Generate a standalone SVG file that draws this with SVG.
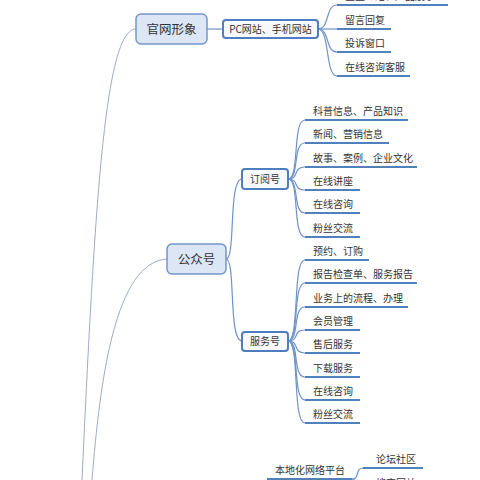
<svg xmlns="http://www.w3.org/2000/svg" width="480" height="480" viewBox="0 0 480 480">
<style>
.t{font-family:"Noto Sans CJK SC","Liberation Sans",sans-serif;fill:#333;font-size:10px}
.big{font-size:12.5px;text-anchor:middle}
.mid{font-size:10px;text-anchor:middle}
.main{fill:#dce6f4;stroke:#7397cc;stroke-width:1.5}
.sub{fill:#f7f9fc;stroke:#4f7ec0;stroke-width:2}
.ul{stroke:#4f81bd;stroke-width:2;fill:none}
.tr{stroke:#9aaccc;stroke-width:1;fill:none}
.c{stroke:#6f93c8;stroke-width:1.2;fill:none}
</style>
<rect width="480" height="480" fill="#fff"/>
<g id="connectors">
<path class="tr" d="M82 480 C95 200 105 29 136 29"/>
<path class="tr" d="M92 480 C100 380 115 262 167 259"/>
<path class="c" d="M207 29 L223 29"/>
<path class="c" d="M318 29 C330 29 325 5 337 5"/>
<path class="c" d="M318 29 C330 29 325 29 337 29"/>
<path class="c" d="M318 29 C330 29 325 52 337 52"/>
<path class="c" d="M318 29 C330 29 325 76 337 76"/>
<path class="c" d="M226 259 C236 259 228 179 242 179"/>
<path class="c" d="M226 259 C236 259 228 341 242 341"/>
<path class="c" d="M288 179 C300 179 292 120 305 120"/>
<path class="c" d="M288 179 C300 179 292 143 305 143"/>
<path class="c" d="M288 179 C300 179 292 167 305 167"/>
<path class="c" d="M288 179 C300 179 292 190 305 190"/>
<path class="c" d="M288 179 C300 179 292 213 305 213"/>
<path class="c" d="M288 179 C300 179 292 237 305 237"/>
<path class="c" d="M288 341 C300 341 292 260 305 260"/>
<path class="c" d="M288 341 C300 341 292 283 305 283"/>
<path class="c" d="M288 341 C300 341 292 307 305 307"/>
<path class="c" d="M288 341 C300 341 292 330 305 330"/>
<path class="c" d="M288 341 C300 341 292 353 305 353"/>
<path class="c" d="M288 341 C300 341 292 377 305 377"/>
<path class="c" d="M288 341 C300 341 292 400 305 400"/>
<path class="c" d="M288 341 C300 341 292 423 305 423"/>
<path class="c" d="M352 479 C360 479 355 468 363 468"/>
<path class="c" d="M352 479 C358 479 356 490 363 492"/>
</g>
<g id="n-guanwang"><rect class="main" x="136" y="14" width="71" height="30" rx="5"/><text class="t big" x="171.5" y="33.5">官网形象</text></g>
<g id="n-pc"><rect class="sub" x="223" y="20" width="95" height="18" rx="3"/><text class="t mid" x="270.5" y="32.5">PC网站、手机网站</text></g>
<g id="n-pc1"><text class="t" x="345" y="0">企业介绍、产品展示</text><line class="ul" x1="337" y1="5" x2="448" y2="5"/></g>
<g id="n-pc2"><text class="t" x="345" y="24">留言回复</text><line class="ul" x1="337" y1="29" x2="391" y2="29"/></g>
<g id="n-pc3"><text class="t" x="345" y="47">投诉窗口</text><line class="ul" x1="337" y1="52" x2="391" y2="52"/></g>
<g id="n-pc4"><text class="t" x="345" y="71">在线咨询客服</text><line class="ul" x1="337" y1="76" x2="410" y2="76"/></g>
<g id="n-gzh"><rect class="main" x="167" y="244" width="59" height="30" rx="5"/><text class="t big" x="196.5" y="263.5">公众号</text></g>
<g id="n-dyh"><rect class="sub" x="242" y="169" width="46" height="20" rx="3"/><text class="t mid" x="265" y="182.5">订阅号</text></g>
<g id="n-fwh"><rect class="sub" x="242" y="332" width="46" height="19" rx="3"/><text class="t mid" x="265" y="345">服务号</text></g>
<g id="n-d1"><text class="t" x="313" y="115">科普信息、产品知识</text><line class="ul" x1="305" y1="120" x2="408" y2="120"/></g>
<g id="n-d2"><text class="t" x="313" y="138">新闻、营销信息</text><line class="ul" x1="305" y1="143" x2="389" y2="143"/></g>
<g id="n-d3"><text class="t" x="313" y="162">故事、案例、企业文化</text><line class="ul" x1="305" y1="167" x2="417" y2="167"/></g>
<g id="n-d4"><text class="t" x="313" y="185">在线讲座</text><line class="ul" x1="305" y1="190" x2="360" y2="190"/></g>
<g id="n-d5"><text class="t" x="313" y="208">在线咨询</text><line class="ul" x1="305" y1="213" x2="360" y2="213"/></g>
<g id="n-d6"><text class="t" x="313" y="232">粉丝交流</text><line class="ul" x1="305" y1="237" x2="360" y2="237"/></g>
<g id="n-f1"><text class="t" x="313" y="255">预约、订购</text><line class="ul" x1="305" y1="260" x2="369" y2="260"/></g>
<g id="n-f2"><text class="t" x="313" y="278">报告检查单、服务报告</text><line class="ul" x1="305" y1="283" x2="417" y2="283"/></g>
<g id="n-f3"><text class="t" x="313" y="302">业务上的流程、办理</text><line class="ul" x1="305" y1="307" x2="408" y2="307"/></g>
<g id="n-f4"><text class="t" x="313" y="325">会员管理</text><line class="ul" x1="305" y1="330" x2="360" y2="330"/></g>
<g id="n-f5"><text class="t" x="313" y="348">售后服务</text><line class="ul" x1="305" y1="353" x2="360" y2="353"/></g>
<g id="n-f6"><text class="t" x="313" y="372">下载服务</text><line class="ul" x1="305" y1="377" x2="360" y2="377"/></g>
<g id="n-f7"><text class="t" x="313" y="395">在线咨询</text><line class="ul" x1="305" y1="400" x2="360" y2="400"/></g>
<g id="n-f8"><text class="t" x="313" y="418">粉丝交流</text><line class="ul" x1="305" y1="423" x2="360" y2="423"/></g>
<g id="n-local"><text class="t" x="275" y="474">本地化网络平台</text><line class="ul" x1="267" y1="479" x2="352" y2="479"/></g>
<g id="n-l1"><text class="t" x="376" y="463">论坛社区</text><line class="ul" x1="363" y1="468" x2="423" y2="468"/></g>
<g id="n-l2"><text class="t" x="376" y="487">搜索网站</text></g>
</svg>
